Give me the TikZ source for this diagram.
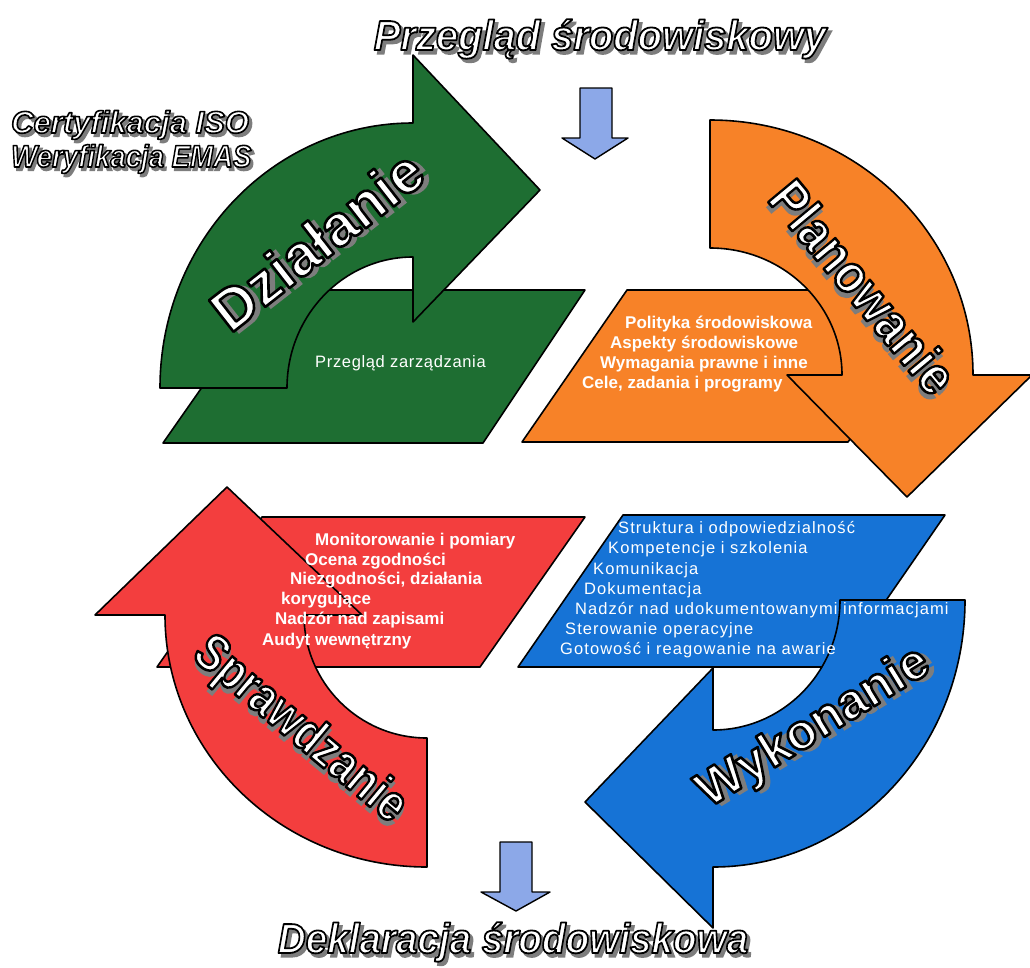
\documentclass[tikz,border=0pt]{standalone}
\usepackage{fontspec}
\setmainfont{Liberation Sans}
\usepackage{graphicx}
\definecolor{cgreen}{RGB}{30,110,50}
\definecolor{corange}{RGB}{247,130,40}
\definecolor{cred}{RGB}{243,62,62}
\definecolor{cblue}{RGB}{22,115,214}
\definecolor{clight}{RGB}{140,168,232}
\definecolor{shadowgray}{RGB}{125,125,125}
% outlined white text (white fill + black stroke) with grey shadow: #1 stroke width, #2 shadow offset, #3 text
\newcommand\outltext[3]{\leavevmode
  \rlap{\kern#2pt\raisebox{-#2pt}{\textcolor{shadowgray}{\special{pdf:code q 2 Tr 2 w}#3\special{pdf:code Q}}}}%
  {\color{white}\special{pdf:code q 0 0 0 RG #1 w 1 j 2 Tr}#3\special{pdf:code Q}}}
\tikzset{
  pshape/.style={draw=black, line width=1.6pt, line join=round},
  smallarrow/.style={pshape, fill=clight, line width=1.4pt},
  infobold/.style={anchor=base west, inner sep=0pt, text=white, font=\fontsize{17}{18}\selectfont\bfseries},
  inforeg/.style={anchor=base west, inner sep=0pt, text=white, font=\addfontfeatures{LetterSpace=6.5}\fontsize{16.5}{18}\selectfont},
  title/.style={inner sep=0pt, font=\fontsize{42}{46}\selectfont\bfseries\itshape},
  biglabel/.style={inner sep=0pt, font=\bfseries}
}
\begin{document}
\begin{tikzpicture}[x=1pt,y=1pt]
\useasboundingbox (0,0) rectangle (1030,-967);
\fill[white] (0,0) rectangle (1030,-967);

% ---------- parallelograms ----------
\draw[pshape, fill=cgreen]  (163,-443) -- (483,-443) -- (585,-290) -- (270,-290) -- cycle;
\draw[pshape, fill=corange] (522,-442) -- (848,-442) -- (953,-290) -- (627,-290) -- cycle;
\draw[pshape, fill=cblue]   (518,-667) -- (840,-667) -- (945,-515) -- (623,-515) -- cycle;
\draw[pshape, fill=cred]    (157,-667) -- (480,-667) -- (585,-517) -- (262,-517) -- cycle;

% ---------- curved arrows ----------
% green (Dzialanie), centre (413,-388)
\draw[pshape, fill=cgreen] (160,-388) arc[start angle=180, end angle=90, x radius=253, y radius=265]
  -- (413,-55) -- (540,-190) -- (413,-322) -- (413,-257)
  arc[start angle=90, end angle=180, x radius=126, y radius=131] -- cycle;
% orange (Planowanie), centre (710,-375)
\draw[pshape, fill=corange] (710,-120) arc[start angle=90, end angle=0, x radius=263, y radius=255]
  -- (1032,-375) -- (907,-497) -- (787,-375) -- (842,-375)
  arc[start angle=0, end angle=90, x radius=132, y radius=127] -- cycle;
% blue (Wykonanie), centre (713,-600)
\draw[pshape, fill=cblue] (965,-600) arc[start angle=0, end angle=-90, x radius=252, y radius=267]
  -- (713,-928) -- (585,-802) -- (713,-668) -- (713,-730)
  arc[start angle=-90, end angle=0, x radius=127, y radius=130] -- cycle;
% red (Sprawdzanie), centre (427,-615)
\draw[pshape, fill=cred] (427,-867) arc[start angle=-90, end angle=-180, x radius=262, y radius=252]
  -- (95,-615) -- (227,-487) -- (362,-615) -- (304,-615)
  arc[start angle=180, end angle=270, x radius=123, y radius=123] -- cycle;

% ---------- small light-blue arrows ----------
\draw[smallarrow] (580,-88) -- (612,-88) -- (612,-138) -- (628,-138) -- (595,-159) -- (562,-138) -- (580,-138) -- cycle;
\draw[smallarrow] (500,-842) -- (532,-842) -- (532,-892) -- (550,-892) -- (516,-911) -- (481,-892) -- (500,-892) -- cycle;

% ---------- titles ----------
\node[title, anchor=base] (tprz) at (600,-50) {\scalebox{0.95}[1]{\outltext{1.8}{3.5}{Przegląd środowiskowy}}};
\node[title, anchor=base west, font=\fontsize{31}{34}\selectfont\bfseries\itshape] (tcert) at (11,-133) {\outltext{1.6}{3}{Certyfikacja ISO}};
\node[title, anchor=base west, font=\fontsize{31}{34}\selectfont\bfseries\itshape] (twer) at (11,-167) {\scalebox{0.89}[1]{\outltext{1.6}{3}{Weryfikacja EMAS}}};
\node[title, anchor=base] (tdek) at (513,-953) {\scalebox{0.92}[1]{\outltext{1.8}{3.5}{Deklaracja środowiskowa}}};

% ---------- big labels ----------
\node[biglabel, rotate=38, font=\fontsize{58}{60}\selectfont\bfseries] (ldz) at (318,-242) {\outltext{2.6}{4}{Działanie}};
\node[biglabel, rotate=-50.3, font=\fontsize{54}{60}\selectfont\bfseries] (lpl) at (862,-288) {\scalebox{0.87}[1]{\outltext{2.6}{4}{Planowanie}}};
\node[biglabel, rotate=31.6, font=\fontsize{50}{60}\selectfont\bfseries] (lwy) at (815,-730) {\outltext{2.6}{4}{Wykonanie}};
\node[biglabel, rotate=-39.8, font=\fontsize{52}{60}\selectfont\bfseries] (lsp) at (298,-732) {\scalebox{0.82}[1]{\outltext{2.6}{4}{Sprawdzanie}}};

% ---------- texts in parallelograms ----------
\node[inforeg, font=\addfontfeatures{LetterSpace=4}\fontsize{16.5}{18}\selectfont] (g1) at (315,-367) {Przegląd zarządzania};

\node[infobold] (o1) at (625,-328) {Polityka środowiskowa};
\node[infobold] (o2) at (610,-348) {Aspekty środowiskowe};
\node[infobold] (o3) at (600,-368) {Wymagania prawne i inne};
\node[infobold] (o4) at (582,-388) {Cele, zadania i programy};

\node[inforeg] (b1) at (618,-533) {Struktura i odpowiedzialność};
\node[inforeg] (b2) at (608,-553) {Kompetencje i szkolenia};
\node[inforeg] (b3) at (593,-574) {Komunikacja};
\node[inforeg] (b4) at (584,-594) {Dokumentacja};
\node[inforeg] (b5) at (575,-614) {Nadzór nad udokumentowanymi informacjami};
\node[inforeg] (b6) at (565,-634) {Sterowanie operacyjne};
\node[inforeg] (b7) at (560,-654) {Gotowość i reagowanie na awarie};

\node[infobold] (r1) at (315,-545) {Monitorowanie i pomiary};
\node[infobold] (r2) at (305,-565) {Ocena zgodności};
\node[infobold] (r3) at (290,-584) {Niezgodności, działania};
\node[infobold] (r4) at (281,-604) {korygujące};
\node[infobold] (r5) at (275,-624) {Nadzór nad zapisami};
\node[infobold] (r6) at (262,-645) {Audyt wewnętrzny};
\end{tikzpicture}
\end{document}
